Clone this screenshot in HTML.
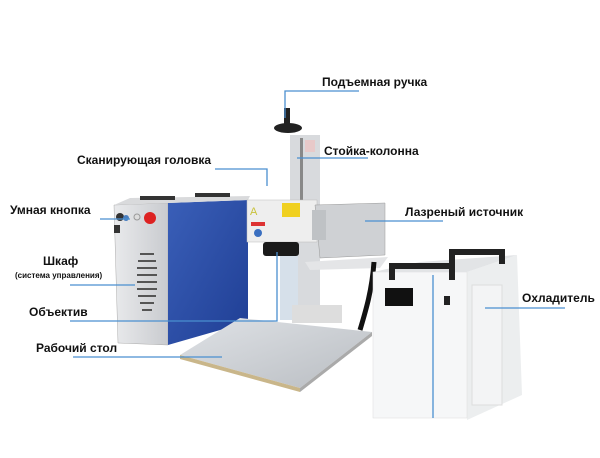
<!DOCTYPE html>
<html><head><meta charset="utf-8"><style>
html,body{margin:0;padding:0;background:#fff;width:600px;height:458px;overflow:hidden}
text{font-family:"Liberation Sans",sans-serif;font-weight:bold;fill:#111}
</style></head><body>
<svg width="600" height="458" viewBox="0 0 600 458" xmlns="http://www.w3.org/2000/svg">
<defs>
<linearGradient id="blue" x1="0" y1="0" x2="1" y2="1"><stop offset="0" stop-color="#3a5fb8"/><stop offset="1" stop-color="#1f3e94"/></linearGradient>
<linearGradient id="silver" x1="0" y1="0" x2="1" y2="0"><stop offset="0" stop-color="#e9eaec"/><stop offset="1" stop-color="#c9cbcf"/></linearGradient>
<linearGradient id="tbl" x1="0" y1="0" x2="1" y2="1"><stop offset="0" stop-color="#dfe2e6"/><stop offset="1" stop-color="#b9bdc2"/></linearGradient>
</defs>
<!-- cabinet -->
<polygon points="114,205 168,203 168,345 118,343" fill="url(#silver)" stroke="#aaa" stroke-width="0.5"/>
<polygon points="168,203 248,200 248,322 168,345" fill="url(#blue)"/>
<polygon points="114,205 130,198 250,196 248,200 168,203" fill="#d9dadc"/>
<rect x="140" y="196" width="35" height="4" fill="#333"/>
<rect x="195" y="193" width="35" height="4" fill="#333"/>
<circle cx="120" cy="217" r="4" fill="#333"/><circle cx="126" cy="218" r="3" fill="#4a7fc0"/>
<circle cx="137" cy="217" r="3" fill="#ddd" stroke="#999"/><circle cx="150" cy="218" r="6" fill="#d22"/>
<rect x="114" y="225" width="6" height="8" fill="#333"/>
<g fill="#555"><rect x="140" y="253" width="14" height="2"/><rect x="138" y="260" width="18" height="2"/><rect x="137" y="267" width="20" height="2"/><rect x="137" y="274" width="20" height="2"/><rect x="137" y="281" width="20" height="2"/><rect x="137" y="288" width="20" height="2"/><rect x="138" y="295" width="18" height="2"/><rect x="140" y="302" width="14" height="2"/><rect x="142" y="309" width="10" height="2"/></g>
<!-- column -->
<rect x="290" y="135" width="30" height="180" fill="#d8dadd"/>
<rect x="300" y="138" width="3" height="90" fill="#888"/>
<rect x="305" y="140" width="10" height="12" fill="#e8c9c9"/>
<ellipse cx="288" cy="128" rx="14" ry="5" fill="#222"/>
<rect x="284" y="108" width="6" height="20" fill="#222"/>
<rect x="280" y="250" width="18" height="70" fill="#d6e0ea"/>
<!-- scan head -->
<rect x="247" y="200" width="70" height="42" fill="#eeeeee" stroke="#bbb" stroke-width="0.5"/>
<text x="250" y="215" font-size="11" style="fill:#c9c23a;font-weight:normal">A</text>
<rect x="282" y="203" width="18" height="14" fill="#f0d020"/>
<rect x="251" y="222" width="14" height="4" fill="#d33"/>
<circle cx="258" cy="233" r="4" fill="#3a6fc0"/>
<rect x="263" y="242" width="36" height="14" rx="3" fill="#1a1a1a"/>
<!-- laser source -->
<polygon points="315,205 385,203 385,255 320,258" fill="#cfd1d4" stroke="#999" stroke-width="0.5"/>
<rect x="312" y="210" width="14" height="30" fill="#bfc2c5"/>
<polygon points="305,262 388,257 380,268 310,270" fill="#e4e5e7"/>
<path d="M374,262 C372,290 366,310 360,330" stroke="#111" stroke-width="5" fill="none"/>
<!-- table -->
<polygon points="180,355 240,318 372,332 300,388" fill="url(#tbl)"/>
<polygon points="180,355 300,388 300,392 180,359" fill="#c9b68a"/>
<polygon points="300,388 372,332 372,336 300,392" fill="#aaa"/>
<rect x="292" y="305" width="50" height="18" fill="#ddd"/>
<!-- chiller -->
<polygon points="467,272 517,255 522,395 467,420" fill="#eceeef"/>
<rect x="373" y="272" width="94" height="146" fill="#f6f7f8" stroke="#ddd" stroke-width="0.5"/>
<polygon points="373,272 420,262 517,255 467,272" fill="#e2e4e6"/>
<path d="M392,280 L392,266 L452,266 L452,280" stroke="#222" stroke-width="6" fill="none"/>
<path d="M452,265 L452,252 L502,252 L502,264" stroke="#222" stroke-width="6" fill="none"/>
<rect x="385" y="288" width="28" height="18" fill="#111"/>
<rect x="444" y="296" width="6" height="9" fill="#222"/>
<rect x="472" y="285" width="30" height="120" fill="#f3f4f5" stroke="#ddd"/>
<!-- connectors -->
<g stroke="#4a8fd0" stroke-width="1.3" fill="none">
<path d="M359,91 H285 V118"/>
<path d="M297,158 H368"/>
<path d="M215,169 H267 V186"/>
<path d="M100,219 H130"/>
<path d="M70,285 H135"/>
<path d="M70,321 H277 V252"/>
<path d="M73,357 H222"/>
<path d="M365,221 H443"/>
<path d="M485,308 H565"/>
<path d="M433,275 V418"/>
</g>
<!-- labels -->
<text x="322" y="86" font-size="12">Подъемная ручка</text>
<text x="324" y="155" font-size="12">Стойка-колонна</text>
<text x="77" y="164" font-size="12">Сканирующая головка</text>
<text x="10" y="214" font-size="12">Умная кнопка</text>
<text x="43" y="265" font-size="12">Шкаф</text>
<text x="15" y="278" font-size="8">(система управления)</text>
<text x="29" y="316" font-size="12">Объектив</text>
<text x="36" y="352" font-size="12">Рабочий стол</text>
<text x="405" y="216" font-size="12">Лазреный источник</text>
<text x="522" y="302" font-size="12">Охладитель</text>
</svg>
</body></html>
